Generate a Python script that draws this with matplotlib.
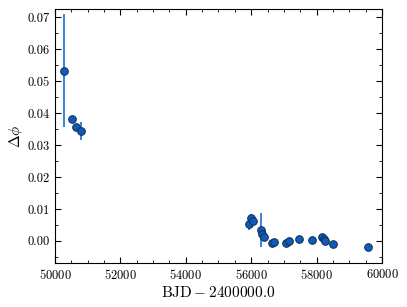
import numpy as np
import matplotlib
matplotlib.use("Agg")
import matplotlib.pyplot as plt
from matplotlib.ticker import MultipleLocator

plt.rcParams['font.family'] = 'serif'
plt.rcParams['font.serif'] = ['cmr10']
plt.rcParams['mathtext.fontset'] = 'cm'
plt.rcParams['axes.formatter.use_mathtext'] = True

# Datos
bjd = [50275, 50530, 50650, 50795,
       55933, 56004, 56055, 56300, 56340, 56400,
       56645, 56706, 57054, 57156, 57472, 57870,
       58175, 58226, 58267, 58512, 59563]
dphi = [0.0532, 0.0382, 0.0355, 0.0345,
        0.0053, 0.0071, 0.0062, 0.0034, 0.0021, 0.0013,
        -0.0005, -0.0002, -0.0005, 0.0000, 0.0005, 0.0004,
        0.0012, 0.0007, 0.0000, -0.0010, -0.0020]
err = [0.0177, 0.0008, 0.0012, 0.0028,
       0.0020, 0.0012, 0.0008, 0.0054, 0.0008, 0.0006,
       0.0004, 0.0004, 0.0004, 0.0004, 0.0004, 0.0004,
       0.0004, 0.0004, 0.0004, 0.0004, 0.0004]

fig = plt.figure(figsize=(4.07, 3.07), dpi=100)
ax = fig.add_axes([0.135, 0.1433, 0.8037, 0.8274])

ax.errorbar(bjd, dphi, yerr=err, fmt='o', color='#1565c8', ecolor='#1a6fd0',
            elinewidth=1.2, markersize=5.5, markerfacecolor='#0f5bb5',
            markeredgecolor='#0b2d5c', markeredgewidth=0.7, capsize=0)

ax.set_xlim(50000, 60000)
ax.set_ylim(-0.0069, 0.0725)
ax.xaxis.set_major_locator(MultipleLocator(2000))
ax.xaxis.set_minor_locator(MultipleLocator(500))
ax.yaxis.set_major_locator(MultipleLocator(0.01))
ax.yaxis.set_minor_locator(MultipleLocator(0.005))
ax.yaxis.set_major_formatter(matplotlib.ticker.FormatStrFormatter('%.2f'))
ax.tick_params(which='both', direction='in', top=True, right=True, labelsize=9)
ax.tick_params(which='major', length=4)
ax.tick_params(which='minor', length=2)

ax.set_xlabel(r'$\mathrm{BJD} - 2400000.0$', fontsize=11, labelpad=2)
ax.set_ylabel(r'$\Delta\phi$', fontsize=11, labelpad=2)

fig.savefig('out.png', dpi=100)
